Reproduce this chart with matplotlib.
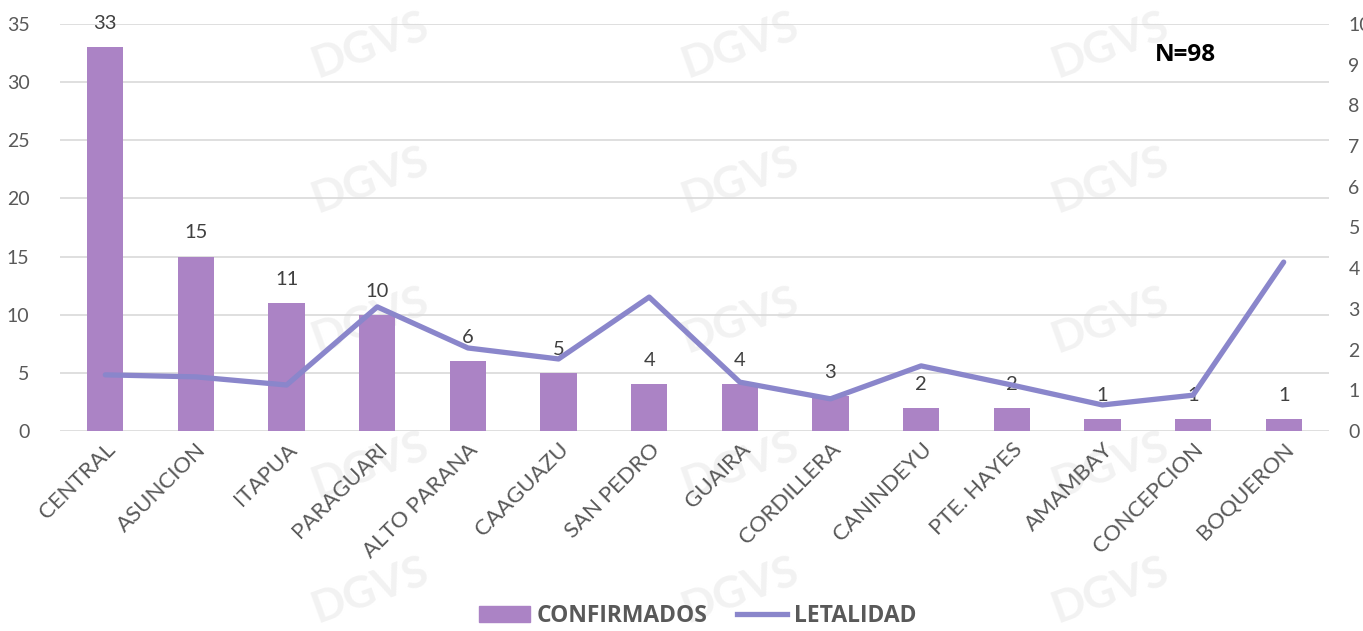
import numpy as np
import matplotlib
matplotlib.use("Agg")
import matplotlib.pyplot as plt
from matplotlib.lines import Line2D
from matplotlib.patches import Patch

# datos
departamentos = ["CENTRAL", "ASUNCION", "ITAPUA", "PARAGUARI", "ALTO PARANA",
                 "CAAGUAZU", "SAN PEDRO", "GUAIRA", "CORDILLERA", "CANINDEYU",
                 "PTE. HAYES", "AMAMBAY", "CONCEPCION", "BOQUERON"]
confirmados = [33, 15, 11, 10, 6, 5, 4, 4, 3, 2, 2, 1, 1, 1]
letalidad = [1.38, 1.33, 1.13, 3.05, 2.04, 1.77, 3.29, 1.20, 0.79, 1.60,
             1.13, 0.64, 0.88, 4.15]
ticks_izq = [0, 5, 10, 15, 20, 25, 30, 35]
ticks_der = list(range(0, 11))

color_barra = "#AB83C5"
color_linea = "#8A86CB"
gris_texto = "#595959"

plt.rcParams["font.family"] = ["Lato", "DejaVu Sans"]

W, H = 1363, 631
fig = plt.figure(figsize=(W / 100, H / 100), dpi=100)

# marca de agua (texto)
for xw in [370, 740, 1110]:
    for yw in [45, 180, 320, 465, 590]:
        fig.text(xw / W, 1 - yw / H, "DGVS", fontsize=32, fontweight="bold",
                 color="#f2f2f2", rotation=20, ha="center", va="center",
                 zorder=-5)

ax = fig.add_axes([60 / W, 1 - 431 / H, (1329 - 60) / W, (431 - 24) / H])
ax.set_facecolor("none")
x = np.arange(len(departamentos))

ax.bar(x, confirmados, width=0.40, color=color_barra, zorder=2)
for xi, v in zip(x, confirmados):
    ax.text(xi, v + 1.3, str(v), ha="center", va="bottom", fontsize=14.5,
            color="#404040", zorder=5)

ax.set_ylim(0, 35)
ax.set_xlim(-0.5, len(departamentos) - 0.5)
ax.set_yticks(ticks_izq)
ax.yaxis.grid(True, color="#d9d9d9", linewidth=1.2, zorder=0)
ax.set_axisbelow(True)
for s in ax.spines.values():
    s.set_visible(False)
ax.tick_params(axis="both", length=0, labelsize=14, labelcolor=gris_texto)
ax.tick_params(axis="y", pad=22)
ax.set_xticks(x)
ax.set_xticklabels(departamentos, rotation=45, ha="right",
                   rotation_mode="anchor", fontsize=16, color=gris_texto)
ax.tick_params(axis="x", pad=6)

ax2 = ax.twinx()
ax2.plot(x, letalidad, color=color_linea, linewidth=3.8, zorder=4,
         solid_capstyle="round")
ax2.set_ylim(0, 10)
ax2.set_yticks(ticks_der)
ax2.tick_params(axis="y", length=0, labelsize=14, labelcolor=gris_texto, pad=14)
for s in ax2.spines.values():
    s.set_visible(False)

fig.text(1185 / W, 1 - 55 / H, "N=98", fontsize=17.5, fontweight="bold",
         family="Open Sans", color="black", ha="center", va="center")

handles = [Patch(color=color_barra),
           Line2D([0], [0], color=color_linea, linewidth=3.8)]
leg = fig.legend(handles, ["CONFIRMADOS", "LETALIDAD"], loc="center",
                 bbox_to_anchor=(698 / W, 1 - 616 / H), ncol=2, frameon=False,
                 prop={"size": 16.5, "weight": "bold", "family": "Open Sans"},
                 handlelength=2.2, handletextpad=0.3, columnspacing=1.3)
for t in leg.get_texts():
    t.set_color(gris_texto)

fig.savefig("out.png", dpi=100)
